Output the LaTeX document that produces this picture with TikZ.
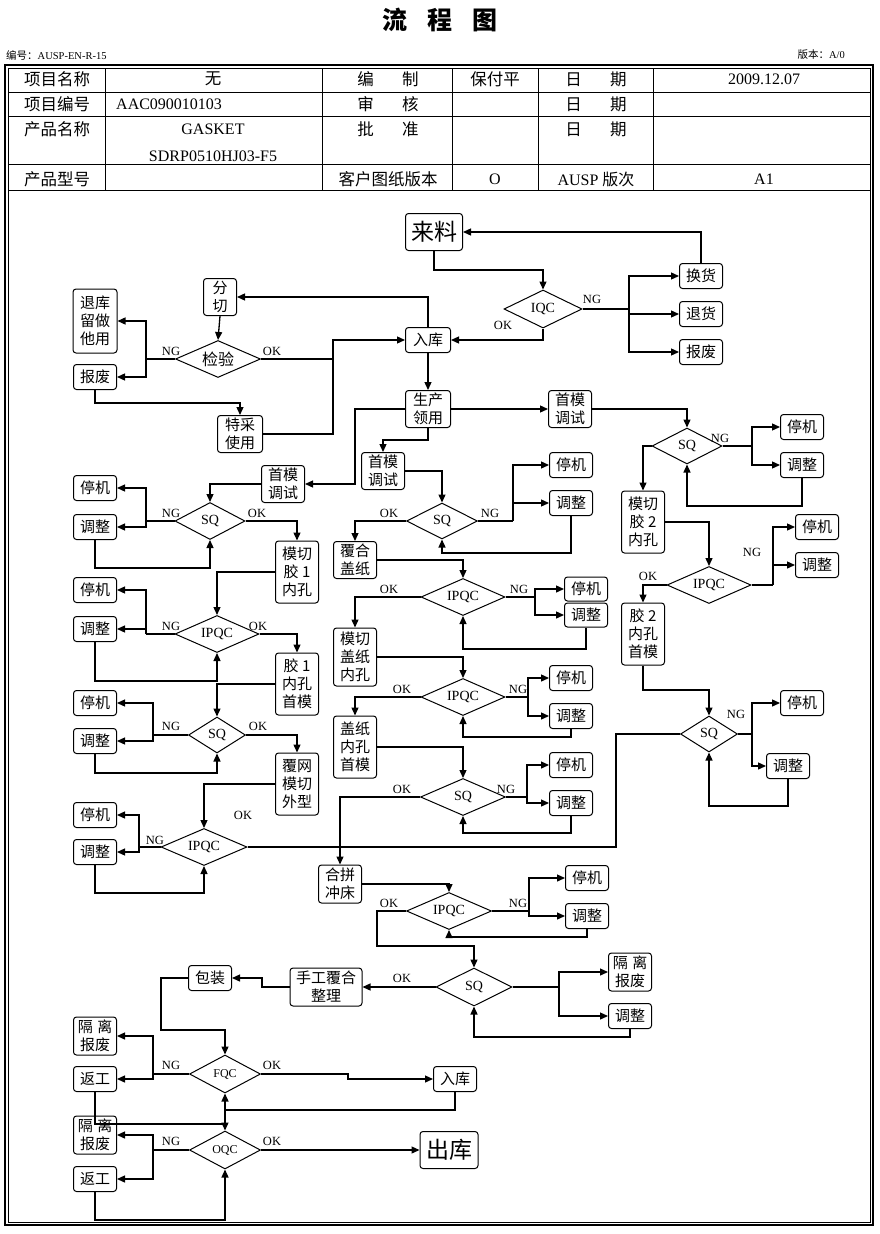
\documentclass[tikz,border=0pt]{standalone}
\usepackage{fontspec}
\setmainfont{Liberation Serif}
\newfontfamily\cjk{Noto Sans CJK SC}
\usetikzlibrary{shapes.geometric,arrows.meta}

\tikzset{
  box/.style={draw, rounded corners=3pt, line width=1pt, font=\cjk\fontsize{15}{18}\selectfont,
    align=center, inner sep=0pt, minimum width=43pt, minimum height=25pt},
  bigbox/.style={box, font=\cjk\fontsize{23}{23}\selectfont, minimum width=57pt, minimum height=37pt},
  dia/.style={draw, diamond, aspect=2.3, inner sep=0pt, line width=1pt,
    font=\fontsize{14}{14}\selectfont, minimum width=84pt, minimum height=37pt},
  lbl/.style={font=\fontsize{12.5}{12.5}\selectfont, inner sep=0pt},
  cell/.style={font=\cjk\fontsize{16.5}{18}\selectfont, inner sep=0pt},
  latcell/.style={cell, font=\fontsize{16}{18}\selectfont},
  ln/.style={line width=1.3pt},
  arr/.style={ln, -{Triangle[length=8pt,width=7pt]}},
}

\begin{document}
\begin{tikzpicture}[x=1pt,y=-1pt]
\useasboundingbox (0,0) rectangle (879,1234);

\node[font=\cjk\bfseries\fontsize{25}{25}\selectfont] (title) at (440,20) {流\hspace{20pt}程\hspace{20pt}图};
\node[anchor=west, font=\fontsize{10.5}{10.5}\selectfont, inner sep=0pt] (bianhao) at (6,55) {{\cjk 编号：}AUSP-EN-R-15};
\node[anchor=east, font=\fontsize{10.5}{10.5}\selectfont, inner sep=0pt] (banben) at (845,55) {{\cjk 版本：}A/0};

\draw[line width=1.2pt] (5,65) rectangle (873,1225);
\draw[line width=0.8pt] (8,68) rectangle (870,1222);
\foreach \y in {92,116,164,190}
  \draw[line width=0.9pt] (8,\y) -- (870,\y);
\foreach \x in {105,322,452,538,653}
  \draw[line width=0.9pt] (\x,68) -- (\x,190);

\node[cell] (c11) at (57,79) {项目名称};
\node[cell] (c12) at (213,79) {无};
\node[cell] (c13) at (388,79) {编\hspace{1.7em}制};
\node[cell] (c14) at (495,79) {保付平};
\node[cell] (c15) at (596,79) {日\hspace{1.7em}期};
\node[latcell] (c16) at (764,79) {2009.12.07};
\node[cell] (c21) at (57,104) {项目编号};
\node[latcell, anchor=west] (c22) at (116,104) {AAC090010103};
\node[cell] (c23) at (388,104) {审\hspace{1.7em}核};
\node[cell] (c25) at (596,104) {日\hspace{1.7em}期};
\node[cell] (c31) at (57,129) {产品名称};
\node[latcell] (c32) at (213,129) {GASKET};
\node[latcell] (c32b) at (213,156) {SDRP0510HJ03-F5};
\node[cell] (c33) at (388,129) {批\hspace{1.7em}准};
\node[cell] (c35) at (596,129) {日\hspace{1.7em}期};
\node[cell] (c41) at (57,179) {产品型号};
\node[cell] (c43) at (388,179) {客户图纸版本};
\node[latcell] (c44) at (495,179) {O};
\node[latcell] (c45) at (596,179) {AUSP {\cjk 版次}};
\node[latcell] (c46) at (764,179) {A1};

% incoming
\node[bigbox] (lai) at (434,232) {来料};
\node[dia, minimum width=78pt, minimum height=38pt] (iqc) at (543,309) {IQC};
\node[box] (huan) at (701,276) {换货};
\node[box] (tuihuo) at (701,314) {退货};
\node[box] (baofeiA) at (701,352) {报废};
\node[box, minimum width=45pt] (rukuA) at (428,340) {入库};
\node[box, minimum width=33pt, minimum height=37pt] (fenqie) at (220,297) {分\\切};
\node[dia, minimum width=85pt, font=\cjk\fontsize{16}{16}\selectfont] (jianyan) at (218,359) {检验};
\node[box, minimum width=44pt, minimum height=64pt] (tuiku) at (95,321) {退库\\留做\\他用};
\node[box] (baofeiB) at (95,377) {报废};
\node[box, minimum width=45pt, minimum height=37pt] (tecai) at (240,434) {特采\\使用};
\node[box, minimum width=45pt, minimum height=37pt] (lingyong) at (428,409) {生产\\领用};

\node[lbl] (l1) at (592,299) {NG};
\node[lbl] (l2) at (503,325) {OK};
\node[lbl] (l3) at (171,351) {NG};
\node[lbl] (l4) at (272,351) {OK};

\coordinate (iqcng) at (629,309);
\coordinate (jyng) at (146,359);
\coordinate (jyok) at (333,359);
\draw[arr] (lai.south) -- (lai.south |- 0,270) -| (iqc.north);
\draw[ln] (iqc.east) -- (iqcng);
\draw[arr] (iqcng) |- (huan.west);
\draw[arr] (iqcng) |- (tuihuo.west);
\draw[arr] (iqcng) |- (baofeiA.west);
\draw[arr] (huan.north) |- (lai.east);
\draw[arr] (iqc.south) |- (rukuA.east);
\draw[arr] (rukuA.north) |- (fenqie.east);
\draw[arr] (rukuA.south) -- (lingyong.north);
\draw[arr] (fenqie.south) -- (jianyan.north);
\draw[ln] (jianyan.west) -- (jyng);
\draw[arr] (jyng) |- (tuiku.east);
\draw[arr] (jyng) |- (baofeiB.east);
\draw[arr] (baofeiB.south) -- (baofeiB.south |- 0,403) -| (tecai.north);
\draw[ln] (jianyan.east) -- (jyok);
\draw[arr] (tecai.east) -| (jyok) |- (rukuA.west);

% right line
\node[box, minimum height=37pt] (smR) at (570,409) {首模\\调试};
\node[dia, minimum width=70pt, minimum height=36pt] (sqR1) at (687,446) {SQ};
\node[box] (tjR1) at (802,427) {停机};
\node[box] (tzR1) at (802,465) {调整};
\node[box, minimum height=62pt] (mqR) at (643,522) {模切\\胶 2\\内孔};
\node[dia] (ipqcR) at (709,585) {IPQC};
\node[box] (tjR2) at (817,527) {停机};
\node[box] (tzR2) at (817,565) {调整};
\node[box, minimum height=62pt] (jiaoR) at (643,634) {胶 2\\内孔\\首模};
\node[dia, minimum width=57pt, minimum height=36pt] (sqR2) at (709,734) {SQ};
\node[box] (tjR3) at (802,703) {停机};
\node[box] (tzR3) at (788,766) {调整};

\node[lbl] (l5) at (720,438) {NG};
\node[lbl] (l6) at (752,552) {NG};
\node[lbl] (l7) at (648,576) {OK};
\node[lbl] (l8) at (736,714) {NG};

\coordinate (sqR1ng) at (752,446);
\coordinate (ipqcRng) at (773,585);
\coordinate (sqR2ng) at (752,734);
\draw[arr] (lingyong.east) -- (smR.west);
\draw[arr] (smR.east) -| (sqR1.north);
\draw[ln] (sqR1.east) -- (sqR1ng);
\draw[arr] (sqR1ng) |- (tjR1.west);
\draw[arr] (sqR1ng) |- (tzR1.west);
\draw[arr] (tzR1.south) -- (tzR1.south |- 0,506) -| (sqR1.south);
\draw[arr] (sqR1.west) -| (mqR.north);
\draw[arr] (mqR.east) -| (ipqcR.north);
\draw[ln] (ipqcR.east) -- (ipqcRng);
\draw[arr] (ipqcRng) |- (tjR2.west);
\draw[arr] (ipqcRng) |- (tzR2.west);
\draw[arr] (ipqcR.west) -| (jiaoR.north);
\draw[arr] (jiaoR.south) -- (jiaoR.south |- 0,690) -| (sqR2.north);
\draw[ln] (sqR2.east) -- (sqR2ng);
\draw[arr] (sqR2ng) |- (tjR3.west);
\draw[arr] (sqR2ng) |- (tzR3.west);
\draw[arr] (tzR3.south) -- (tzR3.south |- 0,806) -| (sqR2.south);

% left line
\node[box, minimum height=37pt] (smL) at (283,484) {首模\\调试};
\node[dia, minimum width=70pt] (sqL1) at (210,521) {SQ};
\node[box] (tjL1) at (95,488) {停机};
\node[box] (tzL1) at (95,527) {调整};
\node[box, minimum height=62pt] (mqL) at (297,572) {模切\\胶 1\\内孔};
\node[dia] (ipqcL1) at (217,634) {IPQC};
\node[box] (tjL2) at (95,590) {停机};
\node[box] (tzL2) at (95,629) {调整};
\node[box, minimum height=62pt] (jiaoL) at (297,684) {胶 1\\内孔\\首模};
\node[dia, minimum width=57pt, minimum height=36pt] (sqL2) at (217,735) {SQ};
\node[box] (tjL3) at (95,703) {停机};
\node[box] (tzL3) at (95,741) {调整};
\node[box, minimum height=62pt] (fwL) at (297,784) {覆网\\模切\\外型};
\node[dia, minimum width=86pt] (ipqcL3) at (204,847) {IPQC};
\node[box] (tjL4) at (95,815) {停机};
\node[box] (tzL4) at (95,852) {调整};

\node[lbl] (l9) at (171,513) {NG};
\node[lbl] (l10) at (257,513) {OK};
\node[lbl] (l11) at (171,626) {NG};
\node[lbl] (l12) at (258,626) {OK};
\node[lbl] (l13) at (171,726) {NG};
\node[lbl] (l14) at (258,726) {OK};
\node[lbl] (l15) at (243,815) {OK};
\node[lbl] (l16) at (155,840) {NG};

\coordinate (sqL1ng) at (146,521);
\coordinate (ipqcL1ng) at (146,634);
\coordinate (sqL2ng) at (153,735);
\coordinate (ipqcL3ng) at (139,847);
\draw[arr] (lingyong.west) -- (355,409) |- (smL.east);
\draw[arr] (smL.west) -| (sqL1.north);
\draw[ln] (sqL1.west) -- (sqL1ng);
\draw[arr] (sqL1ng) |- (tjL1.east);
\draw[arr] (sqL1ng) |- (tzL1.east);
\draw[arr] (tzL1.south) -- (tzL1.south |- 0,568) -| (sqL1.south);
\draw[arr] (sqL1.east) -| (mqL.north);
\draw[arr] (mqL.west) -| (ipqcL1.north);
\draw[ln] (ipqcL1.west) -- (ipqcL1ng);
\draw[arr] (ipqcL1ng) |- (tjL2.east);
\draw[arr] (ipqcL1ng) |- (tzL2.east);
\draw[arr] (tzL2.south) -- (tzL2.south |- 0,681) -| (ipqcL1.south);
\draw[arr] (ipqcL1.east) -| (jiaoL.north);
\draw[arr] (jiaoL.west) -| (sqL2.north);
\draw[ln] (sqL2.west) -- (sqL2ng);
\draw[arr] (sqL2ng) |- (tjL3.east);
\draw[arr] (sqL2ng) |- (tzL3.east);
\draw[arr] (tzL3.south) -- (tzL3.south |- 0,773) -| (sqL2.south);
\draw[arr] (sqL2.east) -| (fwL.north);
\draw[arr] (fwL.west) -| (ipqcL3.north);
\draw[ln] (ipqcL3.west) -- (ipqcL3ng);
\draw[arr] (ipqcL3ng) |- (tjL4.east);
\draw[arr] (ipqcL3ng) |- (tzL4.east);
\draw[arr] (tzL4.south) -- (tzL4.south |- 0,893) -| (ipqcL3.south);
\draw[ln] (sqR2.west) -| (616,847) -- (ipqcL3.east);

% middle line
\node[box, minimum height=37pt] (smM) at (383,471) {首模\\调试};
\node[dia, minimum width=71pt, minimum height=36pt] (sqM1) at (442,521) {SQ};
\node[box] (tjM1) at (571,465) {停机};
\node[box] (tzM1) at (571,503) {调整};
\node[box, minimum height=37pt] (fhM) at (355,560) {覆合\\盖纸};
\node[dia] (ipqcM1) at (463,597) {IPQC};
\node[box, minimum height=24pt] (tjM2) at (586,589) {停机};
\node[box, minimum height=24pt] (tzM2) at (586,615) {调整};
\node[box, minimum height=58pt] (mqM) at (355,657) {模切\\盖纸\\内孔};
\node[dia] (ipqcM2) at (463,697) {IPQC};
\node[box] (tjM3) at (571,678) {停机};
\node[box] (tzM3) at (571,716) {调整};
\node[box, minimum height=62pt] (gzM) at (355,747) {盖纸\\内孔\\首模};
\node[dia, minimum width=85pt] (sqM2) at (463,797) {SQ};
\node[box] (tjM4) at (571,765) {停机};
\node[box] (tzM4) at (571,803) {调整};
\node[box, minimum height=38pt] (hpM) at (340,884) {合拼\\冲床};
\node[dia, minimum width=85pt] (ipqcM3) at (449,911) {IPQC};
\node[box] (tjM5) at (587,878) {停机};
\node[box] (tzM5) at (587,916) {调整};

\node[lbl] (l17) at (389,513) {OK};
\node[lbl] (l18) at (490,513) {NG};
\node[lbl] (l19) at (389,589) {OK};
\node[lbl] (l20) at (519,589) {NG};
\node[lbl] (l21) at (402,689) {OK};
\node[lbl] (l22) at (518,689) {NG};
\node[lbl] (l23) at (402,789) {OK};
\node[lbl] (l24) at (506,789) {NG};
\node[lbl] (l25) at (389,903) {OK};
\node[lbl] (l26) at (518,903) {NG};

\coordinate (sqM1ng) at (513,521);
\coordinate (ipqcM1ng) at (535,597);
\coordinate (ipqcM2ng) at (528,697);
\coordinate (sqM2ng) at (527,797);
\coordinate (ipqcM3ng) at (529,911);
\draw[arr] (lingyong.south) -- (lingyong.south |- 0,440) -| (smM.north);
\draw[arr] (smM.east) -| (sqM1.north);
\draw[ln] (sqM1.east) -- (sqM1ng);
\draw[arr] (sqM1ng) |- (tjM1.west);
\draw[arr] (sqM1ng) |- (tzM1.west);
\draw[arr] (tzM1.south) -- (tzM1.south |- 0,553) -| (sqM1.south);
\draw[arr] (sqM1.west) -| (fhM.north);
\draw[arr] (fhM.east) -| (ipqcM1.north);
\draw[ln] (ipqcM1.east) -- (ipqcM1ng);
\draw[arr] (ipqcM1ng) |- (tjM2.west);
\draw[arr] (ipqcM1ng) |- (tzM2.west);
\draw[arr] (tzM2.south) -- (tzM2.south |- 0,649) -| (ipqcM1.south);
\draw[arr] (ipqcM1.west) -| (mqM.north);
\draw[arr] (mqM.east) -| (ipqcM2.north);
\draw[ln] (ipqcM2.east) -- (ipqcM2ng);
\draw[arr] (ipqcM2ng) |- (tjM3.west);
\draw[arr] (ipqcM2ng) |- (tzM3.west);
\draw[arr] (tzM3.south) -- (tzM3.south |- 0,737) -| (ipqcM2.south);
\draw[arr] (ipqcM2.west) -| (gzM.north);
\draw[arr] (gzM.east) -| (sqM2.north);
\draw[ln] (sqM2.east) -- (sqM2ng);
\draw[arr] (sqM2ng) |- (tjM4.west);
\draw[arr] (sqM2ng) |- (tzM4.west);
\draw[arr] (tzM4.south) -- (tzM4.south |- 0,833) -| (sqM2.south);
\draw[arr] (sqM2.west) -| (hpM.north);
\draw[arr] (hpM.east) -| (ipqcM3.north);
\draw[ln] (ipqcM3.east) -- (ipqcM3ng);
\draw[arr] (ipqcM3ng) |- (tjM5.west);
\draw[arr] (ipqcM3ng) |- (tzM5.west);
\draw[arr] (tzM5.south) -- (tzM5.south |- 0,937) -| (ipqcM3.south);

% packing and release
\node[dia, minimum width=76pt, minimum height=38pt] (sqB) at (474,987) {SQ};
\node[box, minimum height=38pt] (glB) at (630,972) {隔\hspace{0.3em}离\\报废};
\node[box] (tzB) at (630,1016) {调整};
\node[box, minimum width=72pt, minimum height=38pt] (sgB) at (326,987) {手工覆合\\整理};
\node[box] (bzB) at (210,978) {包装};
\node[dia, minimum width=71pt, minimum height=38pt, font=\fontsize{12}{12}\selectfont] (fqc) at (225,1074) {FQC};
\node[box, minimum height=38pt] (glF) at (95,1036) {隔\hspace{0.3em}离\\报废};
\node[box] (fgF) at (95,1079) {返工};
\node[box] (rukuF) at (455,1079) {入库};
\node[dia, minimum width=71pt, minimum height=38pt, font=\fontsize{12}{12}\selectfont] (oqc) at (225,1150) {OQC};
\node[box, minimum height=38pt] (glO) at (95,1135) {隔\hspace{0.3em}离\\报废};
\node[box] (fgO) at (95,1179) {返工};
\node[bigbox, minimum width=58pt] (chuku) at (449,1150) {出库};

\node[lbl] (l27) at (402,978) {OK};
\node[lbl] (l28) at (171,1065) {NG};
\node[lbl] (l29) at (272,1065) {OK};
\node[lbl] (l30) at (171,1141) {NG};
\node[lbl] (l31) at (272,1141) {OK};

\coordinate (sqBng) at (559,987);
\coordinate (fqcng) at (153,1074);
\coordinate (oqcng) at (153,1150);
\coordinate (back) at (225,1110);
\draw[arr] (ipqcM3.west) -| (377,946) -| (sqB.north);
\draw[ln] (sqB.east) -- (sqBng);
\draw[arr] (sqBng) |- (glB.west);
\draw[arr] (sqBng) |- (tzB.west);
\draw[arr] (tzB.south) -- (tzB.south |- 0,1037) -| (sqB.south);
\draw[arr] (sqB.west) -- (sgB.east);
\draw[arr] (sgB.west) -- (262,987) |- (bzB.east);
\draw[arr] (bzB.west) -| (161,1030) -| (fqc.north);
\draw[ln] (fqc.west) -- (fqcng);
\draw[arr] (fqcng) |- (glF.east);
\draw[arr] (fqcng) |- (fgF.east);
\draw[arr] (fqc.east) -| (348,1079) -- (rukuF.west);
\draw[arr] (rukuF.south) |- (back) -- (fqc.south);
\draw[arr] (back) -- (oqc.north);
\draw[ln] (fgF.south) |- (225,1124);
\draw[ln] (oqc.west) -- (oqcng);
\draw[arr] (oqcng) |- (glO.east);
\draw[arr] (oqcng) |- (fgO.east);
\draw[arr] (fgO.south) -- (fgO.south |- 0,1220) -| (oqc.south);
\draw[arr] (oqc.east) -- (chuku.west);
\end{tikzpicture}
\end{document}
